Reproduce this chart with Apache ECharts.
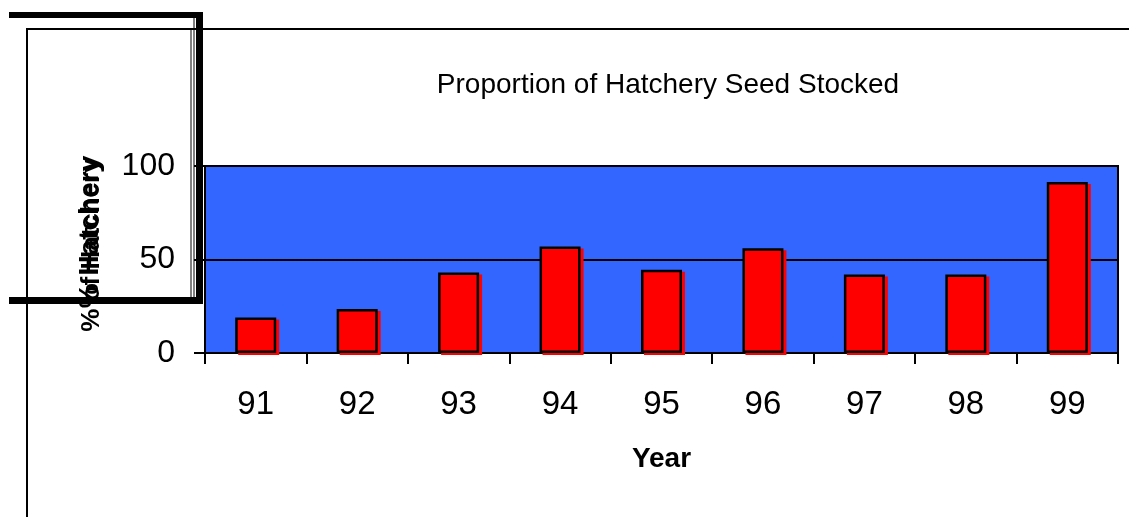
<!DOCTYPE html>
<html>
<head>
<meta charset="utf-8">
<script src="https://cdn.jsdelivr.net/npm/echarts@6/dist/echarts.min.js"></script>
<style>html,body{margin:0;padding:0;background:#fff;}#c{width:1129px;height:517px;}</style>
</head>
<body>
<div id="c"></div>
<script>
var years = ['91','92','93','94','95','96','97','98','99'];
var hatcheryPct = [19, 23.5, 43, 57, 44.5, 56, 42, 42, 91.5];
var yTicks = [0, 50, 100];
var titleText = 'Proportion of Hatchery Seed Stocked';
var xName = 'Year';

var chart = echarts.init(document.getElementById('c'));
var FF = '"Liberation Sans", Arial, Helvetica, sans-serif';
chart.setOption({
  animation: false,
  backgroundColor: '#fff',
  title: {
    text: titleText, left: 663, top: 66, textAlign: 'center',
    textStyle: { fontFamily: FF, fontSize: 28, fontWeight: 'normal', color: '#000' }
  },
  grid: {
    left: 205, right: 11, top: 166, bottom: 164,
    show: true, backgroundColor: '#3366FF', borderColor: '#000', borderWidth: 2
  },
  xAxis: {
    type: 'category', data: years, boundaryGap: true,
    name: xName, nameLocation: 'middle', nameGap: 92,
    nameTextStyle: { fontFamily: FF, fontSize: 28, fontWeight: 'bold', color: '#000' },
    axisLine: { lineStyle: { color: '#000', width: 2 } },
    axisTick: { show: true, alignWithLabel: false, length: 11, lineStyle: { color: '#000', width: 2 } },
    axisLabel: { fontFamily: FF, fontSize: 33, color: '#000', margin: 35 }
  },
  yAxis: {
    type: 'value', min: yTicks[0], max: yTicks[yTicks.length - 1], interval: 50,
    axisLine: { show: true, lineStyle: { color: '#000', width: 2 } },
    axisTick: { show: true, length: 11, lineStyle: { color: '#000', width: 2 } },
    axisLabel: { fontFamily: FF, fontSize: 32, color: '#000', margin: 30 },
    splitLine: { show: true, lineStyle: { color: '#000', width: 2 } }
  },
  series: [{
    type: 'bar', data: hatcheryPct, barWidth: 41,
    itemStyle: {
      color: '#FF0000', borderColor: '#000', borderWidth: 2.5,
      shadowColor: '#FF0000', shadowOffsetX: 3, shadowOffsetY: 2, shadowBlur: 0
    }
  }],
  graphic: [
    { type: 'line', shape: { x1: 27, y1: 29, x2: 1129, y2: 29 }, style: { stroke: '#000', lineWidth: 2 } },
    { type: 'line', shape: { x1: 27, y1: 28, x2: 27, y2: 517 }, style: { stroke: '#000', lineWidth: 2 } },
    { type: 'line', shape: { x1: 191, y1: 28, x2: 191, y2: 297 }, style: { stroke: '#000', lineWidth: 1 } },
    { type: 'line', shape: { x1: 194, y1: 18, x2: 194, y2: 297 }, style: { stroke: '#000', lineWidth: 1 } },
    { type: 'rect', shape: { x: 9, y: 12, width: 194, height: 6 }, style: { fill: '#000' } },
    { type: 'rect', shape: { x: 196, y: 12, width: 7, height: 291 }, style: { fill: '#000' } },
    { type: 'rect', shape: { x: 9, y: 297, width: 194, height: 7 }, style: { fill: '#000' } },
    { type: 'text', x: 90, y: 232, rotation: Math.PI / 2,
      style: { text: '% Hatchery', fontFamily: FF, fontSize: 28, fontWeight: 'bold', fill: '#000', align: 'center', verticalAlign: 'middle' } },
    { type: 'text', x: 92, y: 245, rotation: Math.PI / 2,
      style: { text: '% of Hatchery', fontFamily: FF, fontSize: 26, fontWeight: 'bold', fill: '#000', align: 'center', verticalAlign: 'middle' } }
  ]
});
</script>
</body>
</html>
